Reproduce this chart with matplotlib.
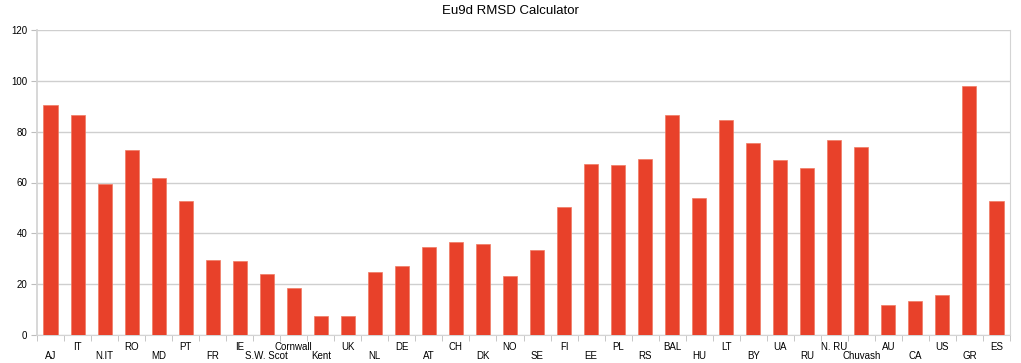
import numpy as np
import matplotlib.pyplot as plt

# Eu9d RMSD by population
labels = ["AJ", "IT", "N.IT", "RO", "MD", "PT", "FR", "IE", "S.W. Scot", "Cornwall",
          "Kent", "UK", "NL", "DE", "AT", "CH", "DK", "NO", "SE", "FI",
          "EE", "PL", "RS", "BAL", "HU", "LT", "BY", "UA", "RU", "N. RU",
          "Chuvash", "AU", "CA", "US", "GR", "ES"]
rmsd = [90.3, 86.7, 59.6, 72.8, 61.6, 52.7, 29.5, 29.2, 24.1, 18.4,
        7.6, 7.3, 24.7, 27.1, 34.6, 36.6, 35.8, 23.4, 33.5, 50.5,
        67.2, 66.7, 69.4, 86.7, 53.9, 84.7, 75.4, 68.8, 65.8, 76.9,
        74.0, 12.0, 13.3, 15.9, 98.0, 52.7]

plt.rcParams['font.family'] = ['Liberation Sans', 'DejaVu Sans']

fig = plt.figure(figsize=(10.21, 3.63), dpi=100)
ax = fig.add_axes([37/1021, 28/363, (1010-37)/1021, (335-30)/363])

x = np.arange(len(labels))
ax.bar(x, rmsd, width=0.52, color='#e8412a', edgecolor='#f07a62', linewidth=0.5, zorder=3)

ax.set_xlim(-0.5, len(labels) - 0.5)
ax.set_ylim(0, 120)
ax.set_yticks(range(0, 121, 20))
ax.yaxis.grid(True, color='#cfcfcf', linewidth=1, zorder=0)
ax.tick_params(axis='y', labelsize=7, length=4, color='#bdbdbd', pad=3)

# category labels in two staggered rows (odd ones up, even ones down)
ax.set_xticks([])
ax.set_xticks(np.arange(-0.5, len(labels)), minor=True)
ax.tick_params(axis='x', which='minor', length=4, color='#bdbdbd')
trans = ax.get_xaxis_transform()
for i, lab in enumerate(labels):
    yy = -0.022 if i % 2 else -0.053
    ax.text(i, yy, lab, transform=trans, ha='center', va='top', fontsize=7)

for s in ['left', 'bottom', 'right', 'top']:
    ax.spines[s].set_color('#d4d4d4')
ax.spines['left'].set_linewidth(1.3)
ax.spines['top'].set_visible(False)

fig.suptitle("Eu9d RMSD Calculator", fontsize=9.5, y=0.985)

fig.savefig("out.png", dpi=100)
